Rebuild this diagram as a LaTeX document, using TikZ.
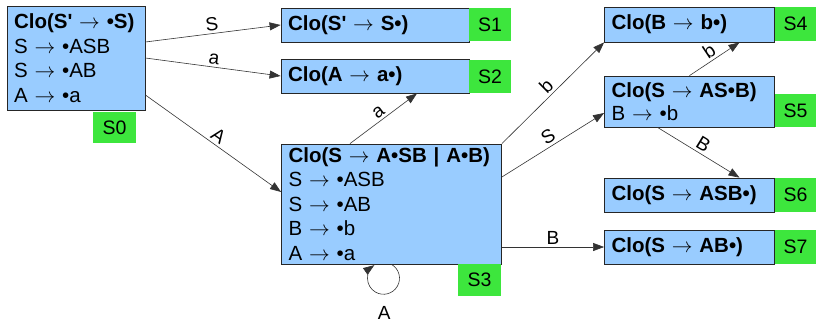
\documentclass[tikz,border=0pt]{standalone}
\usepackage{fontspec}
\setmainfont{Liberation Sans}
\usetikzlibrary{arrows.meta}
\definecolor{statefill}{HTML}{99CCFF}
\definecolor{tagfill}{HTML}{3DE63D}
\newcommand{\ar}{~$\rightarrow$~}
\newcommand{\pr}{\textquotesingle}

\begin{document}
\begin{tikzpicture}[x=1pt,y=1pt,
  state/.style={draw=black!85, line width=0.8pt, fill=statefill,
    inner xsep=7pt, inner ysep=0pt, align=left,
    font=\fontsize{20.5}{24.5}\selectfont},
  tag/.style={fill=tagfill, inner sep=0pt, minimum width=42pt,
    minimum height=33pt, font=\fontsize{19.5}{23}\selectfont},
  edge/.style={draw=black!80, line width=0.6pt,
    -{Triangle[length=11pt,width=8pt]}},
  lbl/.style={font=\fontsize{19}{23}\selectfont, sloped, above, inner sep=2.5pt}]
\useasboundingbox (0,0) rectangle (816,322);

% item sets
\node[state, text width=124pt, minimum height=104pt] (S0) at (76,264)
  {\textbf{Clo(S\pr\ar•S)}\\S\ar•ASB\\S\ar•AB\\A\ar•a};
\node[state, text width=174pt, minimum height=34pt] (S1) at (375,297)
  {\textbf{Clo(S\pr\ar S•)}};
\node[state, text width=174pt, minimum height=34pt] (S2) at (375,246)
  {\textbf{Clo(A\ar a•)}};
\node[state, text width=206pt, minimum height=120pt] (S3) at (391.5,118)
  {\textbf{Clo(S\ar A•SB | A•B)}\\S\ar•ASB\\S\ar•AB\\B\ar•b\\A\ar•a};
\node[state, text width=156pt, minimum height=35pt] (S4) at (689.5,297.5)
  {\textbf{Clo(B\ar b•)}};
\node[state, text width=156pt, minimum height=51pt, font=\fontsize{20.5}{23.5}\selectfont] (S5) at (689.5,220.5)
  {\textbf{Clo(S\ar AS•B)}\\B\ar•b};
\node[state, text width=156pt, minimum height=34pt] (S6) at (689.5,127)
  {\textbf{Clo(S\ar ASB•)}};
\node[state, text width=156pt, minimum height=34pt] (S7) at (689.5,75)
  {\textbf{Clo(S\ar AB•)}};

% state tags
\node[tag, minimum width=43pt, minimum height=31pt] (T0) at (114.5,194.5) {S0};
\node[tag] (T1) at (490,297.5) {S1};
\node[tag] (T2) at (490,245.5) {S2};
\node[tag, minimum width=43pt, minimum height=32pt] (T3) at (479.5,42) {S3};
\node[tag, minimum width=41pt, minimum height=34pt] (T4) at (795.5,298) {S4};
\node[tag, minimum width=41pt] (T5) at (795.5,211.5) {S5};
\node[tag, minimum width=41pt, minimum height=34pt] (T6) at (795.5,127) {S6};
\node[tag, minimum width=41pt, minimum height=34pt] (T7) at (795.5,75) {S7};

% transitions
\draw[edge] ([yshift=16pt]S0.east) -- node[lbl] {S} (S1.west);
\draw[edge] (S0.east) -- node[lbl] {a} (S2.west);
\draw[edge] ([yshift=-37pt]S0.east) -- node[lbl] {A} ([yshift=12pt]S3.west);
\draw[edge] ([xshift=-41.5pt]S3.north) -- node[lbl] {a} ([xshift=42pt]S2.south);
\draw[edge] (S3.north east) -- node[lbl] {b} (S4.south west);
\draw[edge] ([yshift=27pt]S3.east) -- node[lbl] {S} ([yshift=-11.5pt]S5.west);
\draw[edge] ([yshift=-43pt]S3.east) -- node[lbl] {B} (S7.west);
\draw[edge] (S5.north) -- node[lbl] {b} ([xshift=50pt]S4.south);
\draw[edge] ([xshift=-32pt]S5.south) -- node[lbl] {B} ([xshift=50pt]S6.north);
\draw[edge] (S3.south) arc[start angle=60, end angle=-235, radius=16]
  node[pos=0.5, anchor=north, inner sep=0pt, yshift=-12pt,
       font=\fontsize{19}{23}\selectfont] (LA) {A};
\end{tikzpicture}
\end{document}
